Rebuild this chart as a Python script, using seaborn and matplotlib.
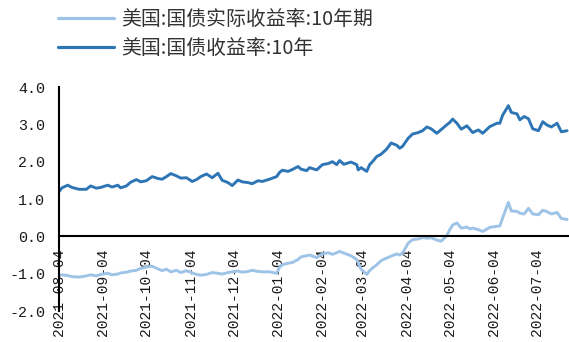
import matplotlib
matplotlib.use("Agg")
import matplotlib.pyplot as plt
import matplotlib.dates as mdates
from matplotlib.ticker import FixedLocator, FormatStrFormatter
import pandas as pd
import seaborn as sns

# Observation dates
dates = [
    "2021-08-04", "2021-08-06", "2021-08-10", "2021-08-13", "2021-08-18", "2021-08-23",
    "2021-08-26", "2021-08-30", "2021-09-02", "2021-09-07", "2021-09-10", "2021-09-14",
    "2021-09-16", "2021-09-20", "2021-09-23", "2021-09-27", "2021-09-30", "2021-10-04",
    "2021-10-08", "2021-10-12", "2021-10-15", "2021-10-18", "2021-10-21", "2021-10-25",
    "2021-10-28", "2021-11-01", "2021-11-05", "2021-11-08", "2021-11-11", "2021-11-15",
    "2021-11-19", "2021-11-23", "2021-11-26", "2021-11-30", "2021-12-03", "2021-12-07",
    "2021-12-10", "2021-12-14", "2021-12-17", "2021-12-21", "2021-12-24", "2021-12-29",
    "2022-01-03", "2022-01-05", "2022-01-07", "2022-01-11", "2022-01-14", "2022-01-18",
    "2022-01-20", "2022-01-24", "2022-01-26", "2022-01-31", "2022-02-04", "2022-02-08",
    "2022-02-11", "2022-02-14", "2022-02-16", "2022-02-19", "2022-02-24", "2022-02-28",
    "2022-03-01", "2022-03-03", "2022-03-07", "2022-03-09", "2022-03-11", "2022-03-14",
    "2022-03-17", "2022-03-21", "2022-03-24", "2022-03-28", "2022-03-30", "2022-04-01",
    "2022-04-05", "2022-04-08", "2022-04-12", "2022-04-15", "2022-04-18", "2022-04-21",
    "2022-04-25", "2022-04-28", "2022-05-02", "2022-05-04", "2022-05-06", "2022-05-09",
    "2022-05-12", "2022-05-16", "2022-05-18", "2022-05-20", "2022-05-24", "2022-05-27",
    "2022-06-01", "2022-06-06", "2022-06-08", "2022-06-10", "2022-06-14", "2022-06-16",
    "2022-06-20", "2022-06-22", "2022-06-25", "2022-06-28", "2022-07-01", "2022-07-05",
    "2022-07-08", "2022-07-11", "2022-07-14", "2022-07-18", "2022-07-21", "2022-07-25",
]

# 10-year nominal Treasury yield (%)
nominal_10y = [
    1.20, 1.30, 1.37, 1.31, 1.26, 1.26, 1.35, 1.29, 1.31, 1.37, 1.32, 1.37,
    1.30, 1.35, 1.45, 1.52, 1.46, 1.49, 1.60, 1.55, 1.53, 1.60, 1.68, 1.62,
    1.56, 1.57, 1.47, 1.52, 1.60, 1.67, 1.57, 1.69, 1.50, 1.44, 1.36, 1.51,
    1.46, 1.44, 1.41, 1.49, 1.47, 1.53, 1.60, 1.71, 1.77, 1.74, 1.79, 1.87,
    1.80, 1.76, 1.84, 1.78, 1.92, 1.95, 2.00, 1.92, 2.03, 1.93, 1.99, 1.92,
    1.78, 1.84, 1.74, 1.92, 2.00, 2.14, 2.20, 2.34, 2.50, 2.44, 2.36, 2.41,
    2.63, 2.74, 2.78, 2.83, 2.93, 2.88, 2.76, 2.86, 2.99, 3.05, 3.14, 3.03,
    2.87, 2.96, 2.87, 2.78, 2.85, 2.76, 2.94, 3.03, 3.03, 3.25, 3.50, 3.32,
    3.28, 3.12, 3.21, 3.15, 2.88, 2.83, 3.07, 2.98, 2.93, 3.03, 2.80, 2.83,
]

# 10-year real (TIPS) Treasury yield (%)
real_10y = [
    -1.05, -1.03, -1.05, -1.08, -1.09, -1.06, -1.03, -1.06, -1.02, -0.99, -1.03, -1.01,
    -0.98, -0.96, -0.93, -0.91, -0.86, -0.82, -0.80, -0.87, -0.92, -0.88, -0.95, -0.91,
    -0.97, -0.92, -0.98, -1.02, -1.04, -1.02, -0.97, -0.99, -1.01, -0.97, -0.95, -0.93,
    -0.96, -0.94, -0.91, -0.94, -0.95, -0.95, -0.99, -0.83, -0.76, -0.72, -0.70, -0.62,
    -0.55, -0.52, -0.50, -0.57, -0.47, -0.44, -0.48, -0.44, -0.40, -0.45, -0.52, -0.62,
    -0.71, -0.88, -1.02, -0.92, -0.85, -0.76, -0.65, -0.58, -0.53, -0.47, -0.50, -0.45,
    -0.18, -0.09, -0.07, -0.03, -0.05, -0.04, -0.10, -0.13, 0.02, 0.18, 0.30, 0.36,
    0.22, 0.25, 0.20, 0.22, 0.18, 0.13, 0.24, 0.27, 0.28, 0.50, 0.91, 0.68,
    0.67, 0.62, 0.60, 0.75, 0.60, 0.58, 0.70, 0.66, 0.60, 0.64, 0.48, 0.45,
]

series_names = ["美国:国债实际收益率:10年期", "美国:国债收益率:10年"]
series_colors = ["#9DC3E6", "#2E75B6"]

month_ticks = [
    "2021-08-04", "2021-09-04", "2021-10-04", "2021-11-04", "2021-12-04", "2022-01-04",
    "2022-02-04", "2022-03-04", "2022-04-04", "2022-05-04", "2022-06-04", "2022-07-04",
]
y_ticks = [-2.0, -1.0, 0.0, 1.0, 2.0, 3.0, 4.0]

df = pd.DataFrame({
    "date": pd.to_datetime(dates * 2),
    "value": real_10y + nominal_10y,
    "series": [series_names[0]] * len(dates) + [series_names[1]] * len(dates),
})

sns.set_theme(style="white")
plt.rcParams["font.family"] = ["Noto Sans CJK SC", "DejaVu Sans"]

fig = plt.figure(figsize=(5.69, 3.42), dpi=100)
ax = fig.add_axes([0.1039, 0.0906, 0.8961, 0.655])

sns.lineplot(
    data=df, x="date", y="value", hue="series", hue_order=series_names,
    palette=series_colors, linewidth=2.1, ax=ax, legend=False,
)

ax.set_xlim(pd.Timestamp("2021-08-04"), pd.Timestamp("2022-07-26 08:00"))
ax.set_ylim(-2.0, 4.0)
ax.set_xlabel("")
ax.set_ylabel("")

ax.xaxis.set_major_locator(FixedLocator(mdates.date2num(pd.to_datetime(month_ticks))))
ax.xaxis.set_major_formatter(mdates.DateFormatter("%Y-%m-%d"))
ax.yaxis.set_major_locator(FixedLocator(y_ticks))
ax.yaxis.set_major_formatter(FormatStrFormatter("%.1f"))

for side in ("top", "right"):
    ax.spines[side].set_visible(False)
ax.spines["bottom"].set_position(("data", 0))
for side in ("left", "bottom"):
    ax.spines[side].set_color("black")
    ax.spines[side].set_linewidth(1.5)

ax.tick_params(axis="both", which="major", direction="out", color="black",
               width=1.5, length=5, labelcolor="#1a1a1a")
ax.tick_params(axis="x", pad=4)
ax.tick_params(axis="y", pad=5)
for lab in ax.get_xticklabels():
    lab.set_rotation(90)
    lab.set_family("Liberation Mono")
    lab.set_fontsize(10.5)
    lab.set_va("top")
for lab in ax.get_yticklabels():
    lab.set_family("Liberation Mono")
    lab.set_fontsize(10.8)
ax.grid(False)

handles = [plt.Line2D([], [], color=c, linewidth=2.3) for c in series_colors]
fig.legend(handles, series_names, loc="upper left", bbox_to_anchor=(0.101, 0.978),
           frameon=False, fontsize=14.3, handlelength=2.8, handletextpad=0.35,
           labelspacing=0.42, borderpad=0.05, borderaxespad=0, labelcolor="#333333")

fig.savefig("out.png", dpi=100)
